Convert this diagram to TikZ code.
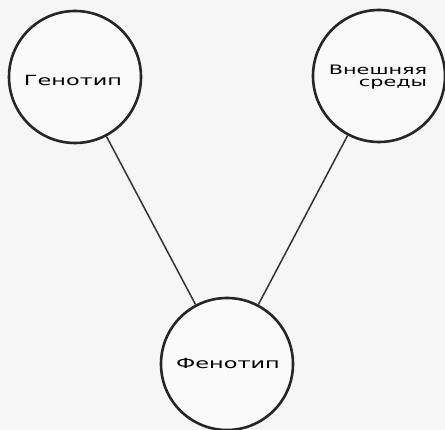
\documentclass[tikz,border=0pt]{standalone}
\usepackage{fontspec}
\newfontfamily\labelfont[FakeStretch=1.6]{DejaVu Sans}

\begin{document}
\begin{tikzpicture}[
    x=1pt, y=-1pt,
    font=\labelfont\fontsize{14}{15}\selectfont,
    factor/.style={circle, draw=black!85, line width=2.6pt, minimum size=132pt, inner sep=0, fill=white!96!gray},
    link/.style={draw=black!80, line width=1.5pt}
]

% ============================================
% FONDO Y MARCO
% ============================================
\fill[gray!7] (0,0) rectangle (445,430);
\useasboundingbox (0,0) rectangle (445,430);

% ============================================
% FACTORES
% ============================================

% Izquierda: genotipo
\node[factor] (geno) at (75,77) {};
\node at (73,80) {Генотип};

% Derecha: medio externo
\node[factor] (medio) at (379,76) {};
\node[align=right, font=\labelfont\fontsize{13}{14}\selectfont] at (378,77) {Внешняя\\[-2pt]среды};

% Abajo: fenotipo
\node[factor] (feno) at (227,364) {};
\node at (228,363) {Фенотип};

% ============================================
% CONEXIONES
% ============================================
\draw[link] (geno) -- (feno);
\draw[link] (medio) -- (feno);

\end{tikzpicture}
\end{document}
